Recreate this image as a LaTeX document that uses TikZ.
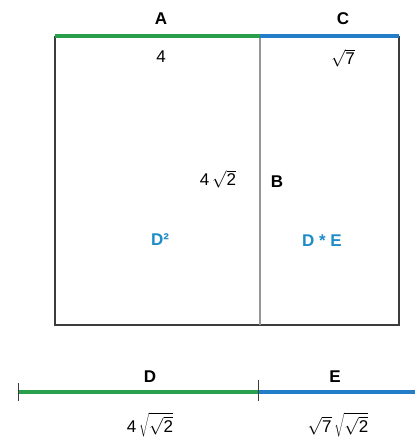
\documentclass[tikz,border=0pt]{standalone}
\usepackage{fontspec}
\setmainfont{Liberation Sans}
\definecolor{lgreen}{RGB}{40,160,75}
\definecolor{lblue}{RGB}{35,125,200}
\definecolor{tblue}{RGB}{30,140,200}
\definecolor{frame}{RGB}{60,60,60}
\definecolor{divgray}{RGB}{150,150,150}
\newcommand{\rt}[1]{$\sqrt{\mbox{#1}}$}
\tikzset{
  seg/.style={line width=3.2pt},
  lbl/.style={font=\fontsize{17}{19}\selectfont\bfseries},
  val/.style={font=\fontsize{17}{19}\selectfont},
  area/.style={font=\fontsize{17}{19}\selectfont\bfseries, text=tblue}
}
\begin{document}
\begin{tikzpicture}[x=1pt,y=-1pt]
    \useasboundingbox (0,0) rectangle (415,439);
    \coordinate (TL) at (55,36);
    \coordinate (TM) at (260,36);
    \coordinate (TR) at (399,36);
    \coordinate (BL) at (55,325);
    \coordinate (BM) at (260,325);
    \coordinate (BR) at (399,325);

    % square and rectangle
    \draw[line width=1.8pt, frame] (TL) -- (BL) -- (BR) -- (TR);
    \draw[line width=2.2pt, divgray] (TM) -- (BM);
    \draw[seg, lgreen] (TL) -- (TM);
    \draw[seg, lblue] (TM) -- (TR);

    \node[lbl] (a) at (161,19) {A};
    \node[lbl] (c) at (343,19) {C};
    \node[val] (four) at (161,57) {4};
    \node[val] (sev) at (343,58) {\rt{7}};
    \node[val] (b4) at (218,179) {4\,\rt{2}};
    \node[lbl] (b) at (277,182) {B};
    \node[area] (dsq) at (160,240) {D²};
    \node[area] (de) at (322,241) {D * E};

    % line below
    \coordinate (L0) at (18,392);
    \coordinate (L1) at (258,392);
    \coordinate (L2) at (415,392);
    \draw[seg, lgreen] (L0) -- (L1);
    \draw[seg, lblue] (L1) -- (L2);
    \draw[line width=1pt, frame] ([yshift=-9]L0) -- ([yshift=9]L0);
    \draw[line width=1pt, frame] ([yshift=-9]L1) -- ([yshift=12]L1);

    \node[lbl] (d) at (150,377) {D};
    \node[lbl] (e) at (335,377) {E};
    \node[val] (dv) at (150,425) {4\,$\sqrt{\sqrt{\mbox{2}}}$};
    \node[val] (ev) at (338,425) {\rt{7}\,$\sqrt{\sqrt{\mbox{2}}}$};
\end{tikzpicture}
\end{document}
